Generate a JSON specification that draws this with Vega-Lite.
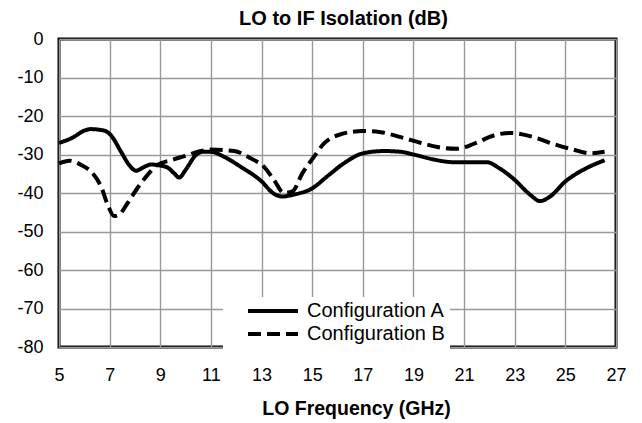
{
  "$schema": "https://vega.github.io/schema/vega-lite/v6.json",
  "width": 557,
  "height": 308,
  "autosize": {"type": "none"},
  "padding": {"left": 59, "top": 39, "right": 26, "bottom": 76},
  "background": "white",
  "title": {
    "text": "LO to IF Isolation (dB)",
    "font": "Liberation Sans",
    "fontSize": 20,
    "fontWeight": "bold",
    "color": "black",
    "anchor": "middle",
    "offset": 1,
    "dx": 6
  },
  "config": {
    "view": {"stroke": "black", "strokeWidth": 3},
    "axis": {
      "labelFont": "Liberation Sans",
      "labelFontSize": 18,
      "labelColor": "black",
      "titleFont": "Liberation Sans",
      "titleColor": "black",
      "gridColor": "#999999",
      "gridWidth": 1.4,
      "gridOpacity": 1,
      "domain": false,
      "ticks": false,
      "tickSize": 0
    }
  },
  "data": {
    "values": [
      {"f": 5.0, "db": -27.0, "c": "Configuration A"},
      {"f": 5.54, "db": -25.6, "c": "Configuration A"},
      {"f": 6.0, "db": -23.8, "c": "Configuration A"},
      {"f": 6.25, "db": -23.4, "c": "Configuration A"},
      {"f": 6.79, "db": -23.8, "c": "Configuration A"},
      {"f": 7.05, "db": -25.0, "c": "Configuration A"},
      {"f": 7.45, "db": -29.3, "c": "Configuration A"},
      {"f": 7.77, "db": -32.7, "c": "Configuration A"},
      {"f": 8.04, "db": -34.2, "c": "Configuration A"},
      {"f": 8.37, "db": -33.2, "c": "Configuration A"},
      {"f": 8.63, "db": -32.6, "c": "Configuration A"},
      {"f": 9.02, "db": -32.9, "c": "Configuration A"},
      {"f": 9.29, "db": -33.4, "c": "Configuration A"},
      {"f": 9.55, "db": -34.9, "c": "Configuration A"},
      {"f": 9.75, "db": -36.0, "c": "Configuration A"},
      {"f": 10.0, "db": -34.0, "c": "Configuration A"},
      {"f": 10.4, "db": -30.2, "c": "Configuration A"},
      {"f": 10.67, "db": -29.3, "c": "Configuration A"},
      {"f": 11.0, "db": -29.3, "c": "Configuration A"},
      {"f": 11.52, "db": -30.6, "c": "Configuration A"},
      {"f": 12.18, "db": -33.2, "c": "Configuration A"},
      {"f": 12.97, "db": -36.8, "c": "Configuration A"},
      {"f": 13.49, "db": -40.2, "c": "Configuration A"},
      {"f": 13.82, "db": -40.9, "c": "Configuration A"},
      {"f": 14.28, "db": -40.4, "c": "Configuration A"},
      {"f": 15.0, "db": -38.8, "c": "Configuration A"},
      {"f": 15.59, "db": -35.7, "c": "Configuration A"},
      {"f": 16.25, "db": -32.3, "c": "Configuration A"},
      {"f": 17.0, "db": -29.7, "c": "Configuration A"},
      {"f": 17.83, "db": -29.1, "c": "Configuration A"},
      {"f": 18.5, "db": -29.3, "c": "Configuration A"},
      {"f": 19.0, "db": -30.0, "c": "Configuration A"},
      {"f": 19.8, "db": -31.3, "c": "Configuration A"},
      {"f": 20.6, "db": -32.0, "c": "Configuration A"},
      {"f": 21.0, "db": -32.0, "c": "Configuration A"},
      {"f": 21.9, "db": -32.0, "c": "Configuration A"},
      {"f": 22.4, "db": -33.6, "c": "Configuration A"},
      {"f": 23.0, "db": -36.6, "c": "Configuration A"},
      {"f": 23.6, "db": -40.4, "c": "Configuration A"},
      {"f": 24.0, "db": -42.1, "c": "Configuration A"},
      {"f": 24.4, "db": -40.9, "c": "Configuration A"},
      {"f": 25.0, "db": -37.0, "c": "Configuration A"},
      {"f": 25.7, "db": -34.0, "c": "Configuration A"},
      {"f": 26.55, "db": -31.5, "c": "Configuration A"},
      {"f": 5.0, "db": -32.3, "c": "Configuration B"},
      {"f": 5.41, "db": -31.6, "c": "Configuration B"},
      {"f": 5.87, "db": -32.7, "c": "Configuration B"},
      {"f": 6.33, "db": -34.9, "c": "Configuration B"},
      {"f": 6.66, "db": -38.3, "c": "Configuration B"},
      {"f": 6.92, "db": -43.0, "c": "Configuration B"},
      {"f": 7.18, "db": -46.0, "c": "Configuration B"},
      {"f": 7.38, "db": -45.6, "c": "Configuration B"},
      {"f": 7.71, "db": -42.6, "c": "Configuration B"},
      {"f": 8.1, "db": -38.7, "c": "Configuration B"},
      {"f": 8.5, "db": -35.3, "c": "Configuration B"},
      {"f": 8.89, "db": -32.7, "c": "Configuration B"},
      {"f": 9.42, "db": -31.5, "c": "Configuration B"},
      {"f": 10.07, "db": -30.2, "c": "Configuration B"},
      {"f": 10.6, "db": -29.1, "c": "Configuration B"},
      {"f": 11.0, "db": -28.7, "c": "Configuration B"},
      {"f": 11.92, "db": -29.1, "c": "Configuration B"},
      {"f": 12.57, "db": -31.0, "c": "Configuration B"},
      {"f": 13.1, "db": -33.2, "c": "Configuration B"},
      {"f": 13.49, "db": -36.6, "c": "Configuration B"},
      {"f": 13.89, "db": -40.0, "c": "Configuration B"},
      {"f": 14.22, "db": -39.6, "c": "Configuration B"},
      {"f": 14.61, "db": -34.9, "c": "Configuration B"},
      {"f": 15.07, "db": -30.6, "c": "Configuration B"},
      {"f": 15.46, "db": -27.2, "c": "Configuration B"},
      {"f": 16.1, "db": -24.8, "c": "Configuration B"},
      {"f": 17.0, "db": -23.9, "c": "Configuration B"},
      {"f": 17.7, "db": -24.2, "c": "Configuration B"},
      {"f": 18.5, "db": -25.5, "c": "Configuration B"},
      {"f": 19.3, "db": -27.0, "c": "Configuration B"},
      {"f": 20.07, "db": -28.2, "c": "Configuration B"},
      {"f": 20.7, "db": -28.5, "c": "Configuration B"},
      {"f": 21.4, "db": -27.2, "c": "Configuration B"},
      {"f": 22.2, "db": -25.0, "c": "Configuration B"},
      {"f": 22.8, "db": -24.4, "c": "Configuration B"},
      {"f": 23.75, "db": -25.5, "c": "Configuration B"},
      {"f": 24.5, "db": -27.2, "c": "Configuration B"},
      {"f": 25.3, "db": -28.7, "c": "Configuration B"},
      {"f": 26.0, "db": -29.7, "c": "Configuration B"},
      {"f": 26.55, "db": -29.3, "c": "Configuration B"}
    ]
  },
  "mark": {"type": "line", "color": "black", "strokeWidth": 4, "interpolate": "monotone", "strokeCap": "butt", "strokeJoin": "round"},
  "encoding": {
    "x": {
      "field": "f",
      "type": "quantitative",
      "scale": {"domain": [5, 27], "nice": false, "zero": false},
      "axis": {
        "values": [5, 7, 9, 11, 13, 15, 17, 19, 21, 23, 25, 27],
        "title": "LO Frequency (GHz)",
        "titleFontSize": 19.5,
        "titleFontWeight": "bold",
        "titleX": 297,
        "titleY": 67,
        "titleBaseline": "alphabetic",
        "titleAnchor": "middle",
        "labelPadding": 19,
        "labelFlush": false,
        "labelOverlap": false
      }
    },
    "y": {
      "field": "db",
      "type": "quantitative",
      "scale": {"domain": [-80, 0], "nice": false, "zero": false},
      "axis": {
        "values": [-80, -70, -60, -50, -40, -30, -20, -10, 0],
        "labelExpr": "datum.value + ''",
        "title": null,
        "labelPadding": 16,
        "labelAlign": "right",
        "labelBaseline": "middle",
        "labelFlush": false,
        "labelOverlap": false
      }
    },
    "strokeDash": {
      "field": "c",
      "type": "nominal",
      "scale": {"domain": ["Configuration A", "Configuration B"], "range": [[1, 0], [13, 6]]},
      "legend": {
        "title": null,
        "orient": "none",
        "legendX": 164,
        "legendY": 258,
        "fillColor": "white",
        "padding": 5,
        "symbolOffset": 18,
        "symbolType": "stroke",
        "symbolSize": 2500,
        "symbolStrokeWidth": 4,
        "symbolStrokeColor": "black",
        "clipHeight": 18,
        "rowPadding": 3,
        "labelOffset": 7,
        "labelFont": "Liberation Sans",
        "labelFontSize": 20,
        "labelColor": "black",
        "labelLimit": 300
      }
    }
  }
}
